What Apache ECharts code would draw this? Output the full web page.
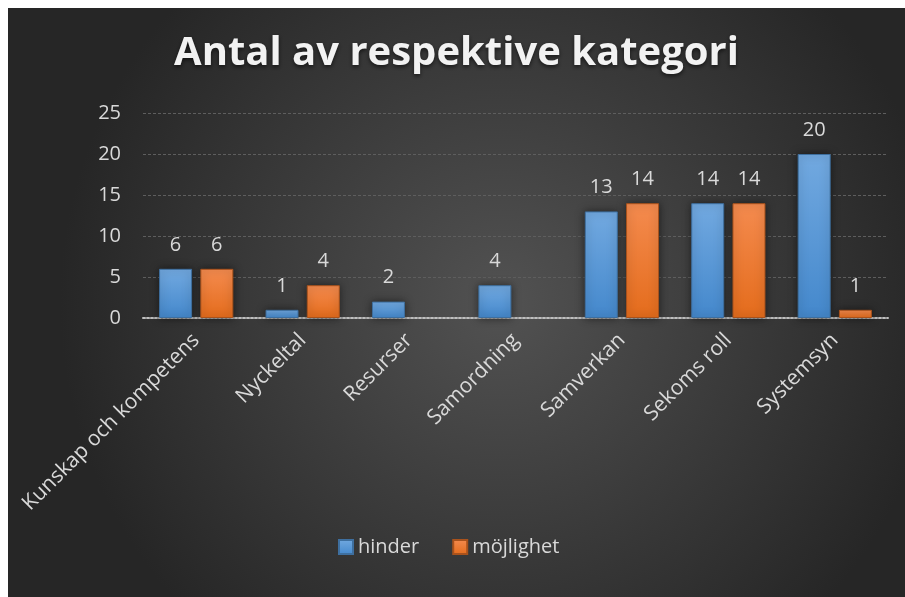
<!DOCTYPE html>
<html>
<head>
<meta charset="utf-8">
<script src="https://cdn.jsdelivr.net/npm/echarts@6/dist/echarts.min.js"></script>
<style>
html, body { margin: 0; padding: 0; background: #ffffff; }
#main { position: absolute; left: 8px; top: 8px; width: 897px; height: 589px; }
</style>
</head>
<body>
<div id="main"></div>
<script>
var categories = ['Kunskap och kompetens', 'Nyckeltal', 'Resurser', 'Samordning', 'Samverkan', 'Sekoms roll', 'Systemsyn'];
var hinder = [6, 1, 2, 4, 13, 14, 20];
var mojlighet = [6, 4, null, null, 14, 14, 1];
var yTicks = { min: 0, max: 25, interval: 5 };

var dom = document.getElementById('main');
var myChart = echarts.init(dom, null, { renderer: 'canvas' });

var labelStyle = {
    show: true,
    position: 'top',
    distance: 14,
    color: '#d9d9d9',
    fontSize: 20,
    fontFamily: 'Open Sans'
};

var option = {
    backgroundColor: {
        type: 'radial', x: 0.55, y: 0.5, r: 0.75,
        colorStops: [
            { offset: 0, color: '#525252' },
            { offset: 1, color: '#262626' }
        ]
    },
    title: {
        text: 'Antal av respektive kategori',
        left: 'center',
        top: 21,
        textStyle: {
            color: '#f2f2f2',
            fontSize: 40,
            fontWeight: 'bold',
            fontFamily: 'Open Sans',
            textShadowColor: 'rgba(0,0,0,0.6)',
            textShadowBlur: 4,
            textShadowOffsetY: 2
        }
    },
    legend: {
        data: ['hinder', 'möjlighet'],
        top: 524,
        left: 325,
        itemWidth: 14,
        itemHeight: 14,
        itemGap: 33,
        icon: 'rect',
        textStyle: { color: '#d9d9d9', fontSize: 20, fontFamily: 'Open Sans' }
    },
    grid: {
        left: 135,
        right: 17,
        top: 105,
        bottom: 279
    },
    xAxis: {
        type: 'category',
        data: categories,
        axisLine: { lineStyle: { color: '#bfbfbf', type: 'dotted', width: 2 } },
        axisTick: { show: false },
        axisLabel: {
            rotate: 45,
            color: '#d9d9d9',
            fontSize: 21,
            fontFamily: 'Open Sans',
            margin: 19,
            interval: 0
        }
    },
    yAxis: {
        type: 'value',
        min: yTicks.min,
        max: yTicks.max,
        interval: yTicks.interval,
        axisLine: { show: false },
        axisTick: { show: false },
        axisLabel: { color: '#d9d9d9', fontSize: 20, fontFamily: 'Open Sans', margin: 22 },
        splitLine: { lineStyle: { color: '#5e5e5e', type: [3, 2], width: 1 } }
    },
    series: [
        {
            name: 'hinder',
            type: 'bar',
            data: hinder,
            barWidth: 33,
            barGap: '25%',
            label: labelStyle,
            itemStyle: {
                color: {
                    type: 'linear', x: 0, y: 0, x2: 0, y2: 1,
                    colorStops: [
                        { offset: 0, color: '#72a9e0' },
                        { offset: 1, color: '#4488cc' }
                    ]
                },
                borderColor: '#3e6f9f',
                borderWidth: 1,
                shadowColor: 'rgba(0,0,0,0.5)',
                shadowBlur: 8
            }
        },
        {
            name: 'möjlighet',
            type: 'bar',
            data: mojlighet,
            barWidth: 33,
            label: labelStyle,
            itemStyle: {
                color: {
                    type: 'linear', x: 0, y: 0, x2: 0, y2: 1,
                    colorStops: [
                        { offset: 0, color: '#f48b4f' },
                        { offset: 1, color: '#e46c1c' }
                    ]
                },
                borderColor: '#a9521c',
                borderWidth: 1,
                shadowColor: 'rgba(0,0,0,0.5)',
                shadowBlur: 8
            }
        }
    ]
};

if (option && typeof option === 'object') {
    myChart.setOption(option);
}

window.addEventListener('resize', myChart.resize);
</script>
</body>
</html>
